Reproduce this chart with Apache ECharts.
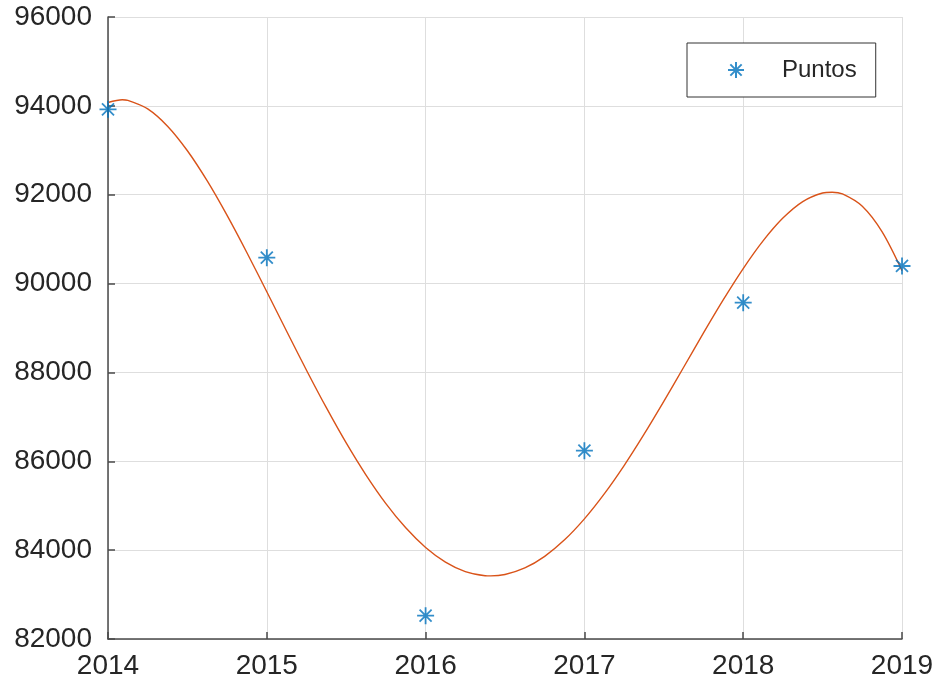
<!DOCTYPE html>
<html>
<head>
<meta charset="utf-8">
<script src="https://cdn.jsdelivr.net/npm/echarts@6/dist/echarts.min.js"></script>
<style>
  html, body { margin: 0; padding: 0; background: #ffffff; }
  #chart { width: 937px; height: 690px; }
</style>
</head>
<body>
<div id="chart"></div>
<script>
// Observed yearly values
const years = [2014, 2015, 2016, 2017, 2018, 2019];
const puntos = [93923, 90583, 82525, 86239, 89570, 90396];

// Fitted curve, sampled every eighth of a year plus its turning points
const fitYears = [
  2014.000, 2014.090, 2014.125, 2014.250, 2014.375, 2014.500, 2014.625, 2014.750, 2014.875,
  2015.000, 2015.125, 2015.250, 2015.375, 2015.500, 2015.625, 2015.750, 2015.875,
  2016.000, 2016.125, 2016.250, 2016.375, 2016.410, 2016.500, 2016.625, 2016.750, 2016.875,
  2017.000, 2017.125, 2017.250, 2017.375, 2017.500, 2017.625, 2017.750, 2017.875,
  2018.000, 2018.125, 2018.250, 2018.375, 2018.500, 2018.560, 2018.625, 2018.750, 2018.875,
  2019.000
];
const fitValues = [
  94076, 94136, 94124, 93933, 93543, 92990, 92310, 91534, 90694,
  89816, 88927, 88050, 87206, 86413, 85690, 85048, 84502,
  84060, 83730, 83517, 83424, 83420, 83452, 83599, 83861, 84232,
  84704, 85266, 85904, 86605, 87349, 88117, 88889, 89637,
  90337, 90960, 91474, 91846, 92039, 92057, 92017, 91739, 91162,
  90290
];

// Axis ticks
const xTicks = { min: 2014, max: 2019, step: 1 };
const yTicks = { min: 82000, max: 96000, step: 2000 };

// Eight-armed asterisk marker, stroked rather than filled
const asterisk = 'path://M0,-10L0,10M-10,0L10,0M-7.07,-7.07L7.07,7.07M-7.07,7.07L7.07,-7.07';

const BLUE = '#0072BD';
const ORANGE = '#D95319';
const TEXT = '#262626';
const AXIS = '#4a4a4a';
const GRID = '#dedede';
const FONT = '"Liberation Sans", Arial, Helvetica, sans-serif';

const chart = echarts.init(document.getElementById('chart'), null, { renderer: 'canvas' });

chart.setOption({
  backgroundColor: '#ffffff',
  animation: false,
  grid: { left: 108, top: 17, right: 35, bottom: 51, containLabel: false },
  legend: {
    data: ['Puntos'],
    left: 687,
    top: 43,
    orient: 'vertical',
    itemWidth: 16,
    itemHeight: 16,
    padding: [15, 19, 15, 40],
    borderColor: '#333333',
    borderWidth: 1,
    backgroundColor: '#ffffff',
    textStyle: { color: TEXT, fontSize: 24, fontFamily: FONT, padding: [0, 0, 0, 33] },
    selectedMode: false
  },
  xAxis: {
    type: 'value',
    min: xTicks.min,
    max: xTicks.max,
    interval: xTicks.step,
    axisLine: { show: true, onZero: false, lineStyle: { color: AXIS, width: 1.5 } },
    axisTick: { show: true, inside: true, length: 7, lineStyle: { color: AXIS, width: 1.5 } },
    axisLabel: { color: TEXT, fontSize: 28, fontFamily: FONT, margin: 13,
                 formatter: v => String(v) },
    splitLine: { show: true, lineStyle: { color: GRID, width: 1 } }
  },
  yAxis: {
    type: 'value',
    min: yTicks.min,
    max: yTicks.max,
    interval: yTicks.step,
    axisLine: { show: true, onZero: false, lineStyle: { color: AXIS, width: 1.5 } },
    axisTick: { show: true, inside: true, length: 7, lineStyle: { color: AXIS, width: 1.5 } },
    axisLabel: { color: TEXT, fontSize: 28, fontFamily: FONT, margin: 16, padding: [3, 0, 0, 0],
                 formatter: v => String(v) },
    splitLine: { show: true, lineStyle: { color: GRID, width: 1 } }
  },
  series: [
    {
      name: 'Ajuste',
      type: 'line',
      data: fitYears.map((x, i) => [x, fitValues[i]]),
      smooth: 0.3,
      showSymbol: false,
      lineStyle: { color: ORANGE, width: 1.4 },
      z: 2
    },
    {
      name: 'Puntos',
      type: 'scatter',
      data: years.map((x, i) => [x, puntos[i]]),
      symbol: asterisk,
      symbolSize: 17,
      itemStyle: { color: 'rgba(0,0,0,0)', borderColor: BLUE, borderWidth: 1.8 },
      z: 3
    }
  ]
});
</script>
</body>
</html>
